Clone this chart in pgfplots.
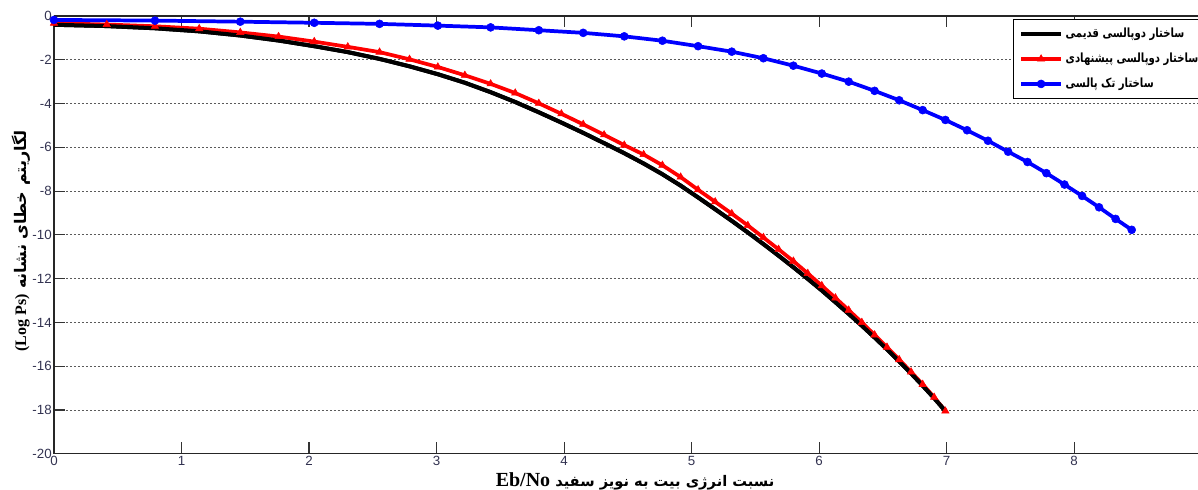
\documentclass[border=0pt]{standalone}
\usepackage{pgfplots}
\pgfplotsset{compat=1.18}
\usepackage{fontspec}
\setmainfont{Liberation Sans}
\newfontfamily\timesfont{Liberation Serif}
\newfontfamily\arabicfont[Script=Arabic]{DejaVu Sans}
\newfontfamily\arabiclegend[Script=Arabic, FakeStretch=0.8]{DejaVu Sans}
\TeXXeTstate=1
\definecolor{ticktext}{RGB}{50,50,80}
\definecolor{gridgray}{RGB}{90,90,90}

% two-pulse structures: Eb/No (dB), log Ps
\pgfplotstableread{
x      red     black
0.000  -0.33   -0.40
0.414  -0.39   -0.46
0.792  -0.47   -0.56
1.139  -0.58   -0.70
1.461  -0.75   -0.89
1.761  -0.94   -1.12
2.041  -1.17   -1.38
2.304  -1.41   -1.65
2.553  -1.65   -1.96
2.788  -1.98   -2.30
3.010  -2.33   -2.66
3.222  -2.71   -3.05
3.424  -3.10   -3.48
3.617  -3.52   -3.93
3.802  -3.99   -4.40
3.979  -4.47   -4.87
4.150  -4.95   -5.34
4.314  -5.43   -5.81
4.472  -5.90   -6.27
4.624  -6.33   -6.74
4.771  -6.82   -7.23
4.914  -7.36   -7.75
5.051  -7.94   -8.29
5.185  -8.49   -8.83
5.315  -9.03   -9.36
5.441  -9.57   -9.89
5.563  -10.12  -10.42
5.682  -10.66  -10.95
5.798  -11.20  -11.48
5.911  -11.76  -12.01
6.021  -12.32  -12.54
6.128  -12.88  -13.08
6.232  -13.44  -13.61
6.335  -14.00  -14.15
6.435  -14.57  -14.69
6.532  -15.13  -15.23
6.628  -15.70  -15.78
6.721  -16.26  -16.33
6.812  -16.83  -16.89
6.902  -17.42  -17.46
6.990  -18.05  -18.05
}\twopulse

% single-pulse structure
\pgfplotstableread{
x      y
0.000  -0.18
0.792  -0.21
1.461  -0.26
2.041  -0.31
2.553  -0.36
3.010  -0.44
3.424  -0.52
3.802  -0.65
4.150  -0.77
4.472  -0.93
4.771  -1.13
5.051  -1.38
5.315  -1.63
5.563  -1.93
5.798  -2.27
6.021  -2.63
6.232  -3.00
6.435  -3.42
6.628  -3.85
6.812  -4.30
6.990  -4.75
7.160  -5.22
7.324  -5.70
7.482  -6.20
7.634  -6.67
7.782  -7.18
7.924  -7.70
8.062  -8.22
8.195  -8.74
8.325  -9.27
8.451  -9.77
}\singlepulse

\begin{document}
\begin{tikzpicture}
\begin{axis}[
    scale only axis,
    width=858.4pt,
    height=328.5pt,
    xmin=0, xmax=8.97,
    ymin=-20, ymax=0,
    xtick={0,1,...,8},
    ytick={-20,-18,...,0},
    axis y line*=left,
    tick align=inside,
    major tick length=8.5pt,
    tick style={black!80, line width=0.8pt},
    axis line style={black!85, line width=0.8pt},
    ticklabel style={font=\fontsize{10}{12}\selectfont, text=ticktext},
    /pgf/number format/assume math mode=true,
    yticklabel style={inner sep=1.5pt},
    xticklabel style={inner sep=2pt},
    ymajorgrids=true,
    grid style={gridgray, dash pattern=on 1.5pt off 1.5pt, line width=0.6pt},
    clip=false,
    xlabel={\arabicfont\bfseries\fontsize{11}{14}\selectfont\beginR نسبت انرژی بیت به نویز سفید \beginL{\timesfont\fontsize{15}{16}\selectfont Eb/No}\endL\endR},
    xlabel style={at={(axis description cs:0.508,-0.063)}, anchor=center},
    ylabel={\arabicfont\bfseries\fontsize{12}{14}\selectfont\beginR لگاریتم خطای نشانه \beginL{\timesfont (Log Ps)}\endL\endR},
    ylabel style={at={(axis description cs:-0.029,0.486)}, anchor=center},
    legend style={at={(axis description cs:0.838,0.993)}, anchor=north west,
        draw=black, line width=0.8pt, fill=white, inner sep=4.5pt, row sep=6pt,
        font=\arabiclegend\bfseries\fontsize{9.5}{12}\selectfont},
    legend cell align=left,
    legend image code/.code={
        \draw[mark repeat=2, mark phase=2, #1] plot coordinates {(0pt,0pt) (15pt,0pt) (30pt,0pt)};},
]
\addplot[black, line width=3pt] table[x=x, y=black] {\twopulse};
\addplot[red, line width=2.8pt, mark=triangle*, mark size=3.2pt, mark options={solid, line width=0.4pt}] table[x=x, y=red] {\twopulse};
\addplot[black, line width=3pt, forget plot] table[x=x, y=black] {\twopulse};
\addplot[blue, line width=2.8pt, mark=*, mark size=3pt, mark options={solid, line width=0.4pt}] table[x=x, y=y] {\singlepulse};
\legend{{\beginR ساختار دوپالسی قدیمی\endR}, {\beginR ساختار دوپالسی پیشنهادی\endR}, {\beginR ساختار تک پالسی\endR}}
\end{axis}
\pgfresetboundingbox
\path[use as bounding box] (-40.5pt,-27pt) rectangle (858.5pt,340.5pt);
\end{tikzpicture}
\end{document}
